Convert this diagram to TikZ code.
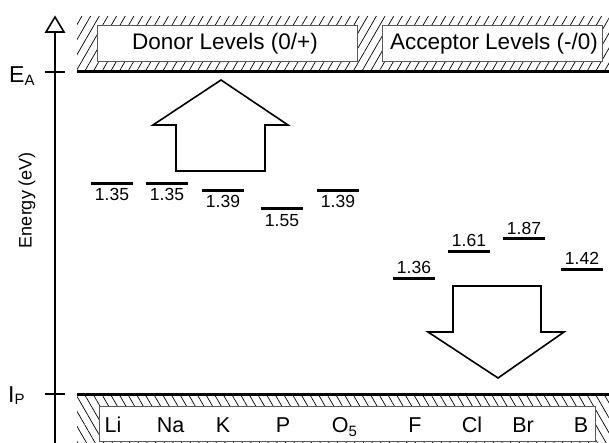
\documentclass[tikz,border=0pt]{standalone}
\usepackage{fontspec}
\setmainfont{Liberation Sans}
\usetikzlibrary{patterns.meta}
\begin{document}
\begin{tikzpicture}[x=1pt,y=-1pt,
  big/.style={font=\fontsize{22.5}{26}\selectfont, inner sep=0pt, anchor=base},
  elem/.style={font=\fontsize{21.5}{25}\selectfont, inner sep=0pt, anchor=base},
  num/.style={font=\fontsize{17.5}{20}\selectfont, inner sep=0pt, anchor=base},
  axlab/.style={font=\fontsize{23}{27}\selectfont, inner sep=0pt, anchor=base west},
  lvl/.style={line width=3pt},
  bandline/.style={line width=3pt},
  labelbox/.style={draw=black!65, line width=0.9pt, fill=white},
  bigarrow/.style={draw, line width=1.6pt, fill=white, line join=miter},
  hatchup/.style={pattern={Lines[angle=60,distance=7.5pt,line width=0.7pt]}},
  hatchdown/.style={pattern={Lines[angle=-60,distance=7.5pt,line width=0.7pt]}},
]
\useasboundingbox (0,0) rectangle (609,443);
\begin{scope}
\clip (0,0) rectangle (609,443);
% bands
\fill[hatchup] (77,17) rectangle (609,72);
\fill[hatchdown] (77,394) rectangle (609,443);
\draw[labelbox] (97,25) rectangle (357,61);
\draw[labelbox] (382,25) rectangle (602,61);
\draw[labelbox] (99,406) rectangle (595,441);
\draw[bandline] (77,72) -- (609,72);
\draw[bandline] (77,394) -- (609,394);
\end{scope}
\node[big] (donor) at (225,50) {Donor Levels (0/+)};
\node[big] (acceptor) at (494,50) {Acceptor Levels (-/0)};
% axis
\coordinate (axb) at (55,443);
\coordinate (axt) at (55,32);
\draw[line width=2pt] (axb) -- (axt);
\draw[line width=1.6pt, fill=white, line join=miter] (46,32) -- (55,17) -- (64,32) -- cycle;
\draw[line width=1.6pt] (45,72) -- (65,72);
\draw[line width=1.6pt] (45,394) -- (65,394);
\node[axlab] (ea) at (9,83) {E\raisebox{-3pt}{\fontsize{15}{17}\selectfont A}};
\node[axlab] (ip) at (8,402) {I\raisebox{-2pt}{\fontsize{15}{17}\selectfont P}};
\node[rotate=90, font=\fontsize{18}{21}\selectfont, inner sep=0pt] (energy) at (27,200) {Energy (eV)};
% donor levels
\foreach \xa/\y/\v in {91/184/1.35, 146/184/1.35, 202/191/1.39, 261/209/1.55, 317/191/1.39}{
  \draw[lvl] (\xa,\y) -- ++(42,0);
  \node[num] at (\xa+21,\y+17) {\v};
}
% acceptor levels
\foreach \xa/\y/\v in {393/278/1.36, 448/251/1.61, 503/239/1.87, 561/269/1.42}{
  \draw[lvl] (\xa,\y) -- ++(42,0);
  \node[num] at (\xa+21,\y-4.7) {\v};
}
% big arrows
\draw[bigarrow] (176,171) -- (265,171) -- (265,125) -- (288,125) -- (221,80) -- (153,125) -- (176,125) -- cycle;
\draw[bigarrow] (453,286) -- (541,286) -- (541,332) -- (564,332) -- (498,378) -- (428,332) -- (453,332) -- cycle;
% elements
\foreach \x/\t in {113/Li, 170.5/Na, 223/K, 283/P, 415/F, 472/Cl, 523/Br, 581/B}{
  \node[elem] at (\x,432) {\t};
}
\node[elem] (o5) at (344.5,432) {O\raisebox{-4pt}{\fontsize{15}{17}\selectfont 5}};
\end{tikzpicture}
\end{document}
